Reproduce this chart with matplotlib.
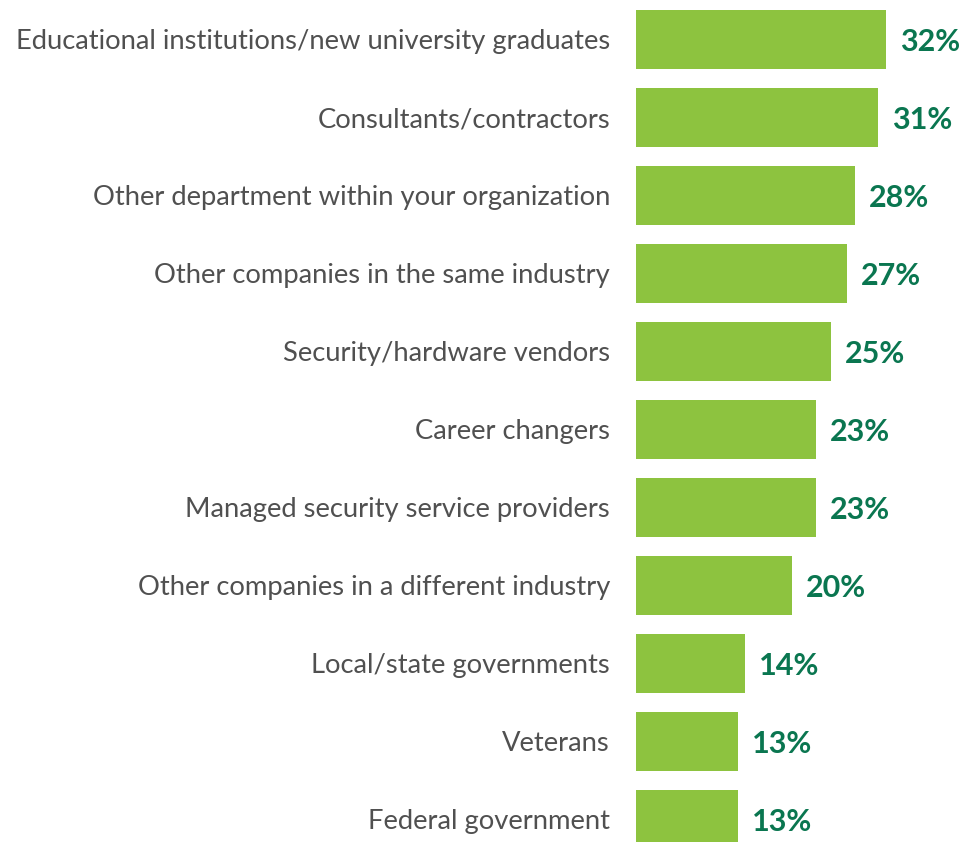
import matplotlib
matplotlib.use("Agg")
import matplotlib.pyplot as plt

categories = [
    "Educational institutions/new university graduates",
    "Consultants/contractors",
    "Other department within your organization",
    "Other companies in the same industry",
    "Security/hardware vendors",
    "Career changers",
    "Managed security service providers",
    "Other companies in a different industry",
    "Local/state governments",
    "Veterans",
    "Federal government",
]
values = [32, 31, 28, 27, 25, 23, 23, 20, 14, 13, 13]

BAR_COLOR = "#8DC33F"
VALUE_COLOR = "#0A7650"
LABEL_COLOR = "#505050"

W, H = 963, 842
fig = plt.figure(figsize=(W / 100, H / 100), dpi=100)
ax = fig.add_axes([0, 0, 1, 1])

px_per_unit = 7.81
x0_px = 636
ax.set_xlim(-x0_px / px_per_unit, (W - x0_px) / px_per_unit)
pitch = 78.0
first_center = 39.5
ax.set_ylim((H - first_center) / pitch, -first_center / pitch)
ax.axis("off")

ypos = list(range(len(categories)))
ax.barh(ypos, values, height=0.756, color=BAR_COLOR, linewidth=0)

for y, cat, v in zip(ypos, categories, values):
    ax.text(-26 / px_per_unit, y + 0.03, cat, ha="right", va="center",
            fontsize=19.7, color=LABEL_COLOR, family=["Lato", "DejaVu Sans"],
            fontweight="normal")
    ax.text(v + 14 / px_per_unit, y + 0.03, f"{v}%", ha="left", va="center",
            fontsize=22, color=VALUE_COLOR, family=["Lato", "DejaVu Sans"],
            fontweight="bold")

fig.savefig("out.png", dpi=100)
